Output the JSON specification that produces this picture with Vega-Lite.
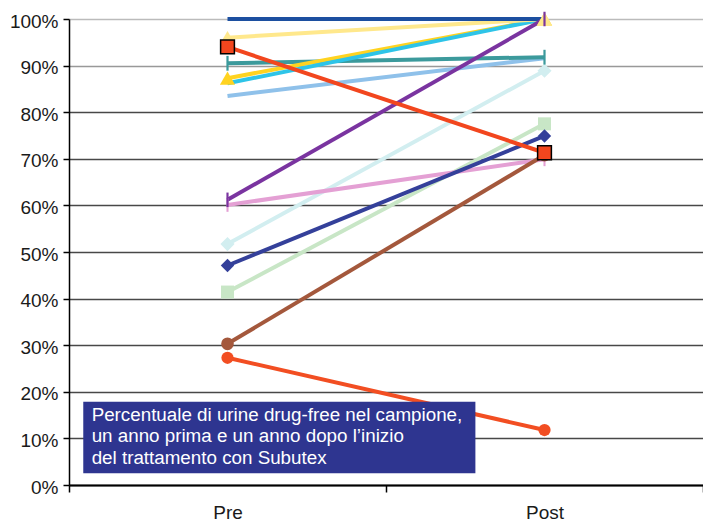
{
  "$schema": "https://vega.github.io/schema/vega-lite/v6.json",
  "width": 634,
  "height": 466,
  "autosize": {"type": "none"},
  "padding": {"left": 69, "top": 19, "right": 0, "bottom": 37},
  "background": "white",
  "config": {"view": {"stroke": null}, "font": "Liberation Sans"},
  "datasets": {
    "serie": [
      {"s": "s12", "fase": "Pre", "v": 0.414}, {"s": "s12", "fase": "Post", "v": 0.775},
      {"s": "s09", "fase": "Pre", "v": 0.517}, {"s": "s09", "fase": "Post", "v": 0.889},
      {"s": "s10", "fase": "Pre", "v": 0.601}, {"s": "s10", "fase": "Post", "v": 0.699},
      {"s": "s06", "fase": "Pre", "v": 0.835}, {"s": "s06", "fase": "Post", "v": 0.916},
      {"s": "s05", "fase": "Pre", "v": 0.905}, {"s": "s05", "fase": "Post", "v": 0.918},
      {"s": "s03", "fase": "Pre", "v": 0.873}, {"s": "s03", "fase": "Post", "v": 1.0},
      {"s": "s04", "fase": "Pre", "v": 0.862}, {"s": "s04", "fase": "Post", "v": 1.0},
      {"s": "s02", "fase": "Pre", "v": 0.96}, {"s": "s02", "fase": "Post", "v": 1.0},
      {"s": "s01", "fase": "Pre", "v": 1.0}, {"s": "s01", "fase": "Post", "v": 1.0},
      {"s": "s08", "fase": "Pre", "v": 0.612}, {"s": "s08", "fase": "Post", "v": 1.0},
      {"s": "s11", "fase": "Pre", "v": 0.471}, {"s": "s11", "fase": "Post", "v": 0.749},
      {"s": "s13", "fase": "Pre", "v": 0.303}, {"s": "s13", "fase": "Post", "v": 0.708},
      {"s": "s07", "fase": "Pre", "v": 0.94}, {"s": "s07", "fase": "Post", "v": 0.713},
      {"s": "s14", "fase": "Pre", "v": 0.273}, {"s": "s14", "fase": "Post", "v": 0.118}
    ],
    "nota": [{"x1": 0.0225, "x2": 0.641, "y1": 0.0251, "y2": 0.1788}],
    "testo": [
      {"x": 0.0357, "y": 0.1384, "riga": "Percentuale di urine drug-free nel campione,"},
      {"x": 0.0357, "y": 0.0923, "riga": "un anno prima e un anno dopo l’inizio"},
      {"x": 0.0357, "y": 0.0461, "riga": "del trattamento con Subutex"}
    ]
  },
  "layer": [
    {
      "data": {"name": "serie"},
      "encoding": {
        "x": {
          "field": "fase", "type": "nominal",
          "scale": {"domain": ["Pre", "Post"], "paddingInner": 0, "paddingOuter": 0},
          "axis": {"title": null, "labelFontSize": 19, "labelAngle": 0, "labelPadding": 11, "labelColor": "#1a1a1a", "tickBand": "extent", "tickSize": 7, "tickColor": "#000", "tickWidth": 1.5, "domainColor": "#000", "domainWidth": 2, "grid": false}
        },
        "y": {
          "field": "v", "type": "quantitative", "title": null,
          "scale": {"domain": [0, 1], "nice": false, "zero": true},
          "axis": {
            "values": [0, 0.1, 0.2, 0.3, 0.4, 0.5, 0.6, 0.7, 0.8, 0.9, 1],
            "format": ".0%", "labelFontSize": 19, "labelColor": "#1a1a1a", "labelPadding": 5, "labelOffset": 2,
            "tickSize": 6, "tickColor": "#000", "tickWidth": 1.5,
            "domainColor": "#000", "domainWidth": 1.5,
            "grid": true, "gridWidth": 1.7,
            "gridColor": {"condition": [{"test": "datum.value > 0.95", "value": "#bbbbbb"}, {"test": "datum.value > 0.85", "value": "#999999"}], "value": "#484848"}
          }
        }
      },
      "layer": [
        {
          "mark": {"type": "line", "strokeCap": "butt"},
          "encoding": {
            "color": {
              "field": "s", "type": "nominal", "legend": null,
              "scale": {
                "domain": ["s01", "s02", "s03", "s04", "s05", "s06", "s07", "s08", "s09", "s10", "s11", "s12", "s13", "s14"],
                "range": ["#1c4fa0", "#ffe88c", "#ffd320", "#2ec4e8", "#3c9a9c", "#8fc1ea", "#f2461e", "#7a34a0", "#d2eef0", "#e4a0d4", "#34409a", "#c8e6c6", "#a4583c", "#f24e22"]
              }
            },
            "strokeWidth": {
              "field": "s", "type": "nominal", "legend": null,
              "scale": {
                "domain": ["s01", "s02", "s03", "s04", "s05", "s06", "s07", "s08", "s09", "s10", "s11", "s12", "s13", "s14"],
                "range": [4, 4, 4, 4, 3, 4, 2.5, 3, 2.5, 2.5, 3, 3.5, 3.5, 4]
              }
            }
          }
        },
        {
          "transform": [{"filter": {"field": "s", "oneOf": ["s02", "s03", "s05", "s08", "s09", "s10", "s11", "s12", "s13", "s14"]}}],
          "mark": {"type": "point", "filled": true, "opacity": 1, "strokeWidth": 0},
          "encoding": {
            "color": {"field": "s", "type": "nominal", "legend": null},
            "shape": {
              "field": "s", "type": "nominal", "legend": null,
              "scale": {
                "domain": ["s02", "s03", "s05", "s08", "s09", "s10", "s11", "s12", "s13", "s14"],
                "range": ["triangle-up", "triangle-up", "M-0.15,-1H0.15V1H-0.15Z", "M-0.15,-1H0.15V1H-0.15Z", "diamond", "M-0.15,-1H0.15V1H-0.15Z", "diamond", "square", "circle", "circle"]
              }
            },
            "size": {
              "field": "s", "type": "nominal", "legend": null,
              "scale": {
                "domain": ["s02", "s03", "s05", "s08", "s09", "s10", "s11", "s12", "s13", "s14"],
                "range": [240, 150, 200, 200, 140, 200, 170, 170, 120, 130]
              }
            }
          }
        },
        {
          "transform": [{"filter": {"field": "s", "equal": "s07"}}],
          "mark": {"type": "point", "shape": "square", "filled": true, "opacity": 1, "size": 190, "fill": "#f2461e", "stroke": "#000", "strokeWidth": 1.5}
        }
      ]
    },
    {
      "data": {"name": "nota"},
      "mark": {"type": "rect", "color": "#2e3590"},
      "encoding": {
        "x": {"field": "x1", "type": "quantitative", "scale": {"domain": [0, 1], "nice": false}, "axis": null},
        "x2": {"field": "x2"},
        "y": {"field": "y1", "type": "quantitative", "title": null},
        "y2": {"field": "y2"}
      }
    },
    {
      "data": {"name": "testo"},
      "mark": {"type": "text", "align": "left", "baseline": "alphabetic", "fontSize": 18.8, "color": "#ffffff", "font": "Liberation Sans"},
      "encoding": {
        "x": {"field": "x", "type": "quantitative", "scale": {"domain": [0, 1], "nice": false}, "axis": null},
        "y": {"field": "y", "type": "quantitative", "title": null},
        "text": {"field": "riga"}
      }
    }
  ],
  "resolve": {"scale": {"x": "independent"}}
}
